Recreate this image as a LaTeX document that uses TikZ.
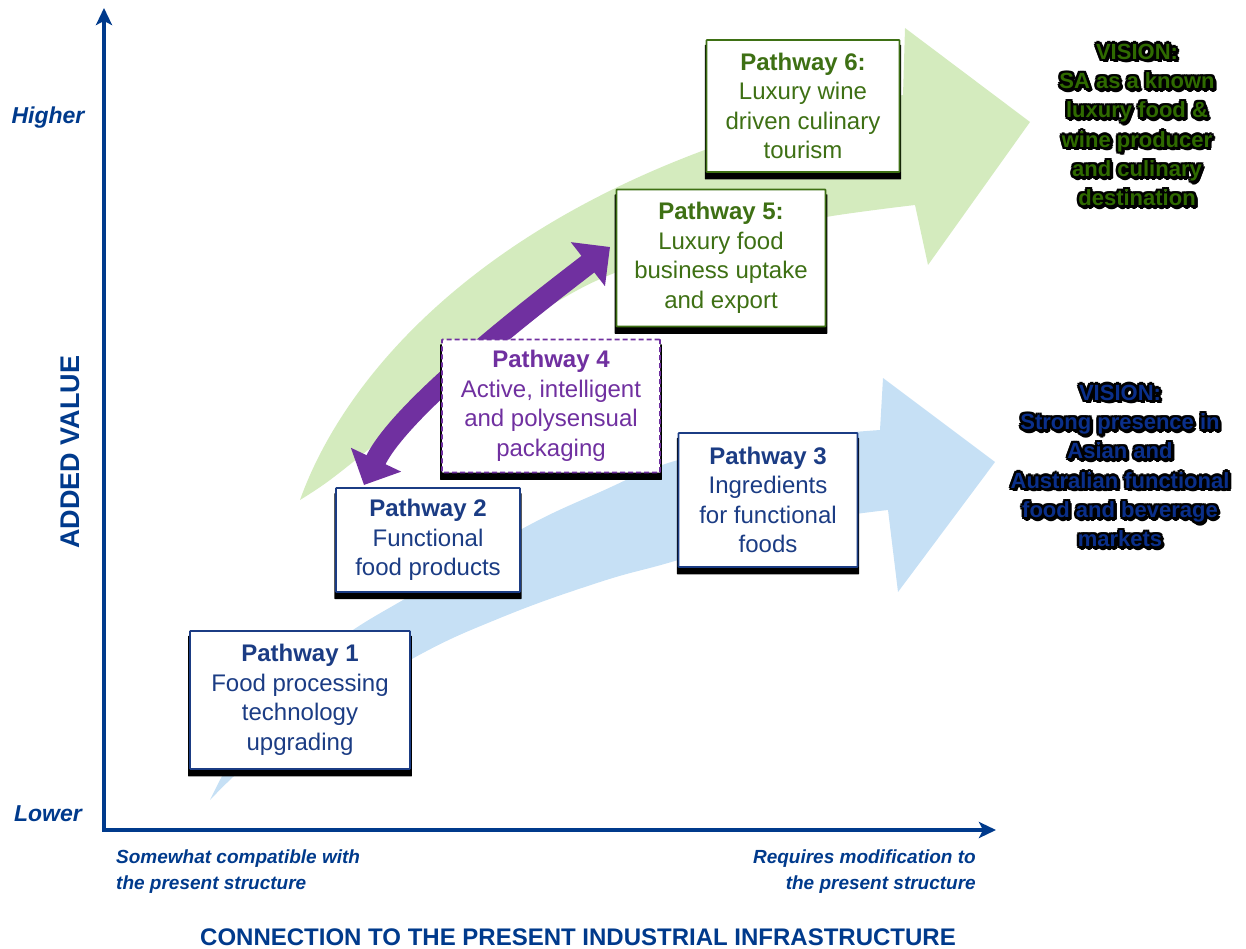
\documentclass[tikz,border=0pt]{standalone}
\usepackage{fontspec}
\setmainfont{Liberation Sans}
\usetikzlibrary{arrows.meta,shadows}
\definecolor{axisblue}{HTML}{003A8C}
\definecolor{boxblue}{HTML}{1B3C84}
\definecolor{boxgreen}{HTML}{3E7014}
\definecolor{boxpurple}{HTML}{7030A0}
\definecolor{lgreen}{HTML}{D4EBBE}
\definecolor{lblue}{HTML}{C6E0F5}
\definecolor{visgreen}{HTML}{2F6A00}
\definecolor{visblue}{HTML}{0A2F8A}
\begin{document}
\begin{tikzpicture}[x=1pt,y=-1pt,
  pbox/.style={draw, fill=white, line width=1.6pt, align=center, inner sep=0pt,
    rounded corners=0.5pt,
    font=\fontsize{24}{29.5}\selectfont,
    general shadow={fill=black, shadow yshift=-6pt, shadow xshift=0pt, shadow scale=1.018}},
  bluebox/.style={pbox, draw=boxblue, text=boxblue},
  greenbox/.style={pbox, draw=boxgreen, text=boxgreen},
  purplebox/.style={pbox, draw=boxpurple, text=boxpurple, dashed, dash pattern=on 5pt off 3pt},
  axisline/.style={draw=axisblue, line width=4.5pt},
  axlabel/.style={text=axisblue, font=\fontsize{23}{27}\selectfont\bfseries\itshape},
  sublabel/.style={text=axisblue, font=\fontsize{19}{26}\selectfont\bfseries\itshape, inner sep=0pt},
  titlelabel/.style={text=axisblue, font=\fontsize{24}{28}\selectfont\bfseries},
  vis/.style={align=center, inner sep=0pt, font=\fontsize{22}{29.3}\selectfont\bfseries},
  purplearr/.style={draw=boxpurple, line width=21pt,
    {Triangle[length=28pt,width=54pt]}-{Triangle[length=28pt,width=54pt]}}
]
\useasboundingbox (0,0) rectangle (1246,949);

% green big arrow
\fill[lgreen] (300,500) .. controls (350,360) and (520,170) .. (903,95)
  -- (905,28) -- (1030,122) -- (928,265) -- (915,205)
  -- plot[smooth, tension=0.55] coordinates {(915,205) (826,217) (720,238) (617,272) (560,300) (500,340) (440,388) (380,440) (330,480) (300,500)} -- cycle;

% blue big arrow
\fill[lblue] plot[smooth, tension=0.7] coordinates {(210,800) (250,728) (300,672) (350,632) (420,590) (520,530) (600,492) (678,460) (780,440) (880,430)}
  -- (883,378) -- (995,462) -- (898,592) -- (888,510)
  -- plot[smooth, tension=0.7] coordinates {(888,510) (780,527) (678,560) (600,582) (500,618) (410,660) (300,728) (250,762) (210,800)} -- cycle;

% purple double arrow
\coordinate (a2) at (364,485);
\coordinate (a5) at (610,247);
\draw[purplearr] (a2) .. controls (402,405) and (552,292) .. (a5);

% boxes
\node[bluebox, minimum width=220pt, minimum height=138pt] (P1) at (300,700)
  {\textbf{Pathway 1}\\Food processing\\technology\\upgrading};
\node[bluebox, minimum width=184pt, minimum height=104pt] (P2) at (428,540)
  {\textbf{Pathway 2}\\Functional\\food products};
\node[bluebox, minimum width=179pt, minimum height=134pt] (P3) at (768,500)
  {\textbf{Pathway 3}\\Ingredients\\for functional\\foods};
\node[purplebox, minimum width=218pt, minimum height=133pt] (P4) at (551,406)
  {\textbf{Pathway 4}\\Active, intelligent\\and polysensual\\packaging};
\node[greenbox, minimum width=209pt, minimum height=137pt] (P5) at (721,258)
  {\textbf{Pathway 5:}\\Luxury food\\business uptake\\and export};
\node[greenbox, minimum width=193pt, minimum height=132pt] (P6) at (803,106)
  {\textbf{Pathway 6:}\\Luxury wine\\driven culinary\\tourism};

% vision texts with dark glow
\foreach \dx/\dy [count=\i] in {-2/-2,0/-2.5,2/-2,-2.5/0,2.5/0,-2/2,0/2.5,2/2,3/3,1.5/3.5,3.5/1.5}{
  \node[vis, text=black] (V1s\i) at (1137+\dx,125+\dy) {VISION:\\SA as a known\\luxury food \&\\wine producer\\and culinary\\destination};
  \node[vis, text=black] (V2s\i) at (1120+\dx,466+\dy) {VISION:\\Strong presence in\\Asian and\\Australian functional\\food and beverage\\markets};
}
\node[vis, text=visgreen] (V1) at (1137,125) {VISION:\\SA as a known\\luxury food \&\\wine producer\\and culinary\\destination};
\node[vis, text=visblue] (V2) at (1120,466) {VISION:\\Strong presence in\\Asian and\\Australian functional\\food and beverage\\markets};

% axes
\coordinate (O) at (104,830);
\coordinate (YT) at (104,8);
\coordinate (XT) at (996,830);
\draw[axisline, {Stealth[length=17pt,width=16pt,inset=4pt]}-{Stealth[length=17pt,width=16pt,inset=4pt]}] (YT) -- (O) -- (XT);

\node[axlabel] (hi) at (48,118) {Higher};
\node[axlabel] (lo) at (48,814) {Lower};
\node[titlelabel, font=\fontsize{27}{30}\selectfont\bfseries, rotate=90] (yl) at (70,452) {ADDED VALUE};
\node[sublabel, align=left, anchor=west] (xl1) at (116,872) {Somewhat compatible with\\the present structure};
\node[sublabel, align=right, anchor=east] (xl2) at (976,872) {Requires modification to\\the present structure};
\node[titlelabel] (xl) at (578,937) {CONNECTION TO THE PRESENT INDUSTRIAL INFRASTRUCTURE};
\end{tikzpicture}
\end{document}
